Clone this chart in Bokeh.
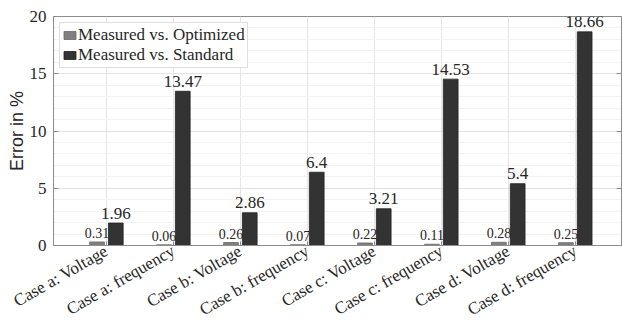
import math
from bokeh.plotting import figure
from bokeh.models import (Range1d, FixedTicker, LinearAxis, LabelSet,
                          ColumnDataSource, Legend, LegendItem)
from bokeh.embed import file_html
from bokeh.resources import INLINE

categories = ["Case a: Voltage", "Case a: frequency", "Case b: Voltage", "Case b: frequency",
              "Case c: Voltage", "Case c: frequency", "Case d: Voltage", "Case d: frequency"]
optimized = [0.31, 0.06, 0.26, 0.07, 0.22, 0.11, 0.28, 0.25]
standard = [1.96, 13.47, 2.86, 6.4, 3.21, 14.53, 5.4, 18.66]
series_names = ["Measured vs. Optimized", "Measured vs. Standard"]
y_ticks = [0, 5, 10, 15, 20]

SERIF = "Liberation Serif"
SANS = "Liberation Sans"
GRAY = "#7f7f7f"
DARK = "#333333"
AXIS = "#8c8c8c"
TXT = "#262626"

positions = list(range(1, len(categories) + 1))
off = 0.14
bw = 0.22

p = figure(width=622, height=331, output_backend="svg", toolbar_location=None,
           x_range=Range1d(0.21, 8.69), y_range=Range1d(0, 20),
           min_border_left=53, min_border_right=1, min_border_top=16, min_border_bottom=86)
p.outline_line_color = AXIS
p.outline_line_width = 1

src_o = ColumnDataSource(dict(x=[c - off for c in positions], top=optimized,
                              lab=[f"{v:g}" for v in optimized]))
src_s = ColumnDataSource(dict(x=[c + off for c in positions], top=standard,
                              lab=[f"{v:g}" for v in standard]))

r_o = p.vbar(x="x", top="top", width=bw, source=src_o, fill_color=GRAY, line_color="#6a6a6a", line_width=0.8)
r_s = p.vbar(x="x", top="top", width=bw, source=src_s, fill_color=DARK, line_color="#222222", line_width=0.8)

p.add_layout(LabelSet(x="x", y="top", text="lab", source=src_o, text_align="center",
                      text_baseline="middle", y_offset=9, text_font=SERIF,
                      text_font_size="14px", text_color=TXT))
p.add_layout(LabelSet(x="x", y="top", text="lab", source=src_s, text_align="center",
                      text_baseline="middle", y_offset=10, text_font=SERIF,
                      text_font_size="17px", text_color=TXT))

# axes
xa = p.xaxis[0]
xa.ticker = FixedTicker(ticks=positions)
xa.major_label_overrides = {c: lab for c, lab in zip(positions, categories)}
xa.major_label_orientation = math.radians(30)
xa.major_label_text_font = SERIF
xa.major_label_text_font_size = "17px"
xa.major_label_text_color = TXT
xa.major_label_standoff = 4
xa.axis_line_color = AXIS
xa.major_tick_in = 4
xa.major_tick_out = 0
xa.major_tick_line_color = AXIS
xa.minor_tick_line_color = None

ya = p.yaxis[0]
ya.ticker = FixedTicker(ticks=y_ticks, minor_ticks=list(range(0, 21)))
ya.axis_label = "Error in %"
ya.axis_label_text_font = SANS
ya.axis_label_text_font_style = "normal"
ya.axis_label_text_font_size = "18px"
ya.axis_label_text_color = TXT
ya.axis_label_standoff = 0
ya.major_label_text_font = SERIF
ya.major_label_text_font_size = "17px"
ya.major_label_text_color = TXT
ya.major_label_standoff = 3
ya.axis_line_color = AXIS
ya.major_tick_in = 5
ya.major_tick_out = 0
ya.major_tick_line_color = AXIS
ya.minor_tick_line_color = None

ra = LinearAxis(ticker=FixedTicker(ticks=y_ticks))
ra.major_label_overrides = {t: "" for t in y_ticks}
ra.major_label_standoff = 0
ra.axis_line_color = AXIS
ra.major_tick_in = 5
ra.major_tick_out = 0
ra.major_tick_line_color = AXIS
ra.minor_tick_line_color = None
p.add_layout(ra, "right")

p.xgrid.ticker = FixedTicker(ticks=positions)
p.xgrid.grid_line_color = "#e6e6e6"
p.ygrid.ticker = FixedTicker(ticks=y_ticks, minor_ticks=list(range(0, 21)))
p.ygrid.grid_line_color = "#e3e3e3"
p.ygrid.minor_grid_line_color = "#f2f2f2"

legend = Legend(items=[LegendItem(label=series_names[0], renderers=[r_o]),
                       LegendItem(label=series_names[1], renderers=[r_s])],
                location="top_left")
legend.margin = 6
legend.padding = 2
legend.spacing = 0
legend.label_text_font = SERIF
legend.label_text_font_size = "17px"
legend.label_text_color = TXT
legend.label_height = 17
legend.label_standoff = 1
legend.glyph_width = 15
legend.glyph_height = 10
legend.border_line_color = "#bdbdbd"
legend.background_fill_alpha = 1
p.add_layout(legend)

open("out.html", "w").write(file_html(p, INLINE))
